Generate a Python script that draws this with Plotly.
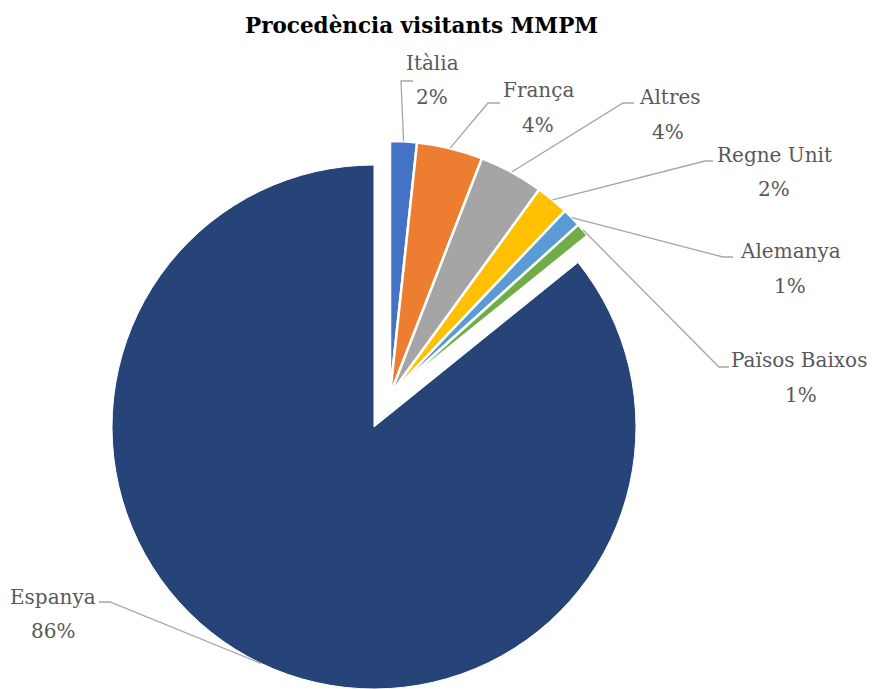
import math
import plotly.graph_objects as go

# ---------------- data ----------------
categories = ["Itàlia", "França", "Altres", "Regne Unit", "Alemanya", "Països Baixos", "Espanya"]
values = [1.7, 4.2, 4.1, 2.1, 1.2, 0.9, 85.8]
colors = ["#4472C4", "#ED7D31", "#A5A5A5", "#FFC000", "#5B9BD5", "#70AD47", "#264478"]
title_text = "Procedència visitants MMPM"

total = sum(values)
pct_labels = [f"{round(v / total * 100)}%" for v in values]

# ---------------- geometry / layout (screen pixels) ----------------
PAGE_MARGIN = 8            # default body margin of the html page
W, H = 875 - PAGE_MARGIN, 689 - PAGE_MARGIN
main_pie = dict(cx=374, cy=427, r=262)    # Espanya (not exploded)
group_pie = dict(cx=390, cy=395, r=254)   # exploded small slices
exploded = [True, True, True, True, True, True, False]

label_layout = {
    "Itàlia":        dict(name=(432, 63),  pct=(432, 97),  elbow=(401, 81),  end=(413, 81)),
    "França":        dict(name=(538, 90),  pct=(538, 125), elbow=(488, 103), end=(500, 103)),
    "Altres":        dict(name=(670, 97),  pct=(668, 132), elbow=(623, 103), end=(634, 103)),
    "Regne Unit":    dict(name=(774, 155), pct=(774, 189), elbow=(705, 161), end=(713, 161)),
    "Alemanya":      dict(name=(790, 251), pct=(790, 286), elbow=(723, 257), end=(733, 257)),
    "Països Baixos": dict(name=(799, 360), pct=(801, 395), elbow=(719, 367), end=(729, 367)),
    "Espanya":       dict(name=(53, 597),  pct=(53, 631),  elbow=(110, 602), end=(99, 602)),
}

LABEL_FONT = dict(family="DejaVu Serif", size=20, color="#595959")
LEADER_COLOR = "#A6A6A6"
TRANSPARENT = "rgba(0,0,0,0)"


def px(x):
    return (x - PAGE_MARGIN) / W


def py(y):
    return 1 - (y - PAGE_MARGIN) / H


def domain_of(p):
    return dict(x=[px(p["cx"] - p["r"]), px(p["cx"] + p["r"])],
                y=[max(0.0, py(p["cy"] + p["r"])), min(1.0, py(p["cy"] - p["r"]))])


fig = go.Figure()

# Espanya (main pie)
fig.add_trace(go.Pie(
    labels=categories, values=values, sort=False, direction="clockwise", rotation=0,
    marker=dict(colors=[TRANSPARENT if e else c for c, e in zip(colors, exploded)],
                line=dict(color="white", width=[0 if e else 1 for e in exploded])),
    textinfo="none", hoverinfo="label+percent", showlegend=False,
    domain=domain_of(main_pie),
))

# Exploded small slices
fig.add_trace(go.Pie(
    labels=categories, values=values, sort=False, direction="clockwise", rotation=0,
    marker=dict(colors=[c if e else TRANSPARENT for c, e in zip(colors, exploded)],
                line=dict(color="white", width=[2.5 if e else 0 for e in exploded])),
    textinfo="none", hoverinfo="label+percent", showlegend=False,
    domain=domain_of(group_pie),
))

# ---------------- labels and leader lines ----------------
annotations = []
shapes = []
cum = 0.0
for cat, v, pct, e in zip(categories, values, pct_labels, exploded):
    mid = (cum + v / 2) / total * 2 * math.pi
    cum += v
    geo = group_pie if e else main_pie
    ax = geo["cx"] + geo["r"] * math.sin(mid)
    ay = geo["cy"] - geo["r"] * math.cos(mid)
    lay = label_layout[cat]
    ex, ey = lay["elbow"]
    tx, ty = lay["end"]
    shapes.append(dict(
        type="path", xref="paper", yref="paper",
        path=f"M {px(ax)} {py(ay)} L {px(ex)} {py(ey)} L {px(tx)} {py(ty)}",
        line=dict(color=LEADER_COLOR, width=1.3),
    ))
    for txt, (lx, ly) in ((cat, lay["name"]), (pct, lay["pct"])):
        annotations.append(dict(
            text=txt, x=px(lx), y=py(ly), xref="paper", yref="paper",
            xanchor="center", yanchor="middle", showarrow=False, font=LABEL_FONT,
        ))

annotations.append(dict(
    text=f"<b>{title_text}</b>", x=px(421), y=py(26), xref="paper", yref="paper",
    xanchor="center", yanchor="middle", showarrow=False,
    font=dict(family="DejaVu Serif", size=21.5, color="#000000"),
))

fig.update_layout(
    width=W, height=H,
    margin=dict(l=0, r=0, t=0, b=0),
    paper_bgcolor="white", plot_bgcolor="white",
    annotations=annotations, shapes=shapes,
)

fig.write_html("out.html")
